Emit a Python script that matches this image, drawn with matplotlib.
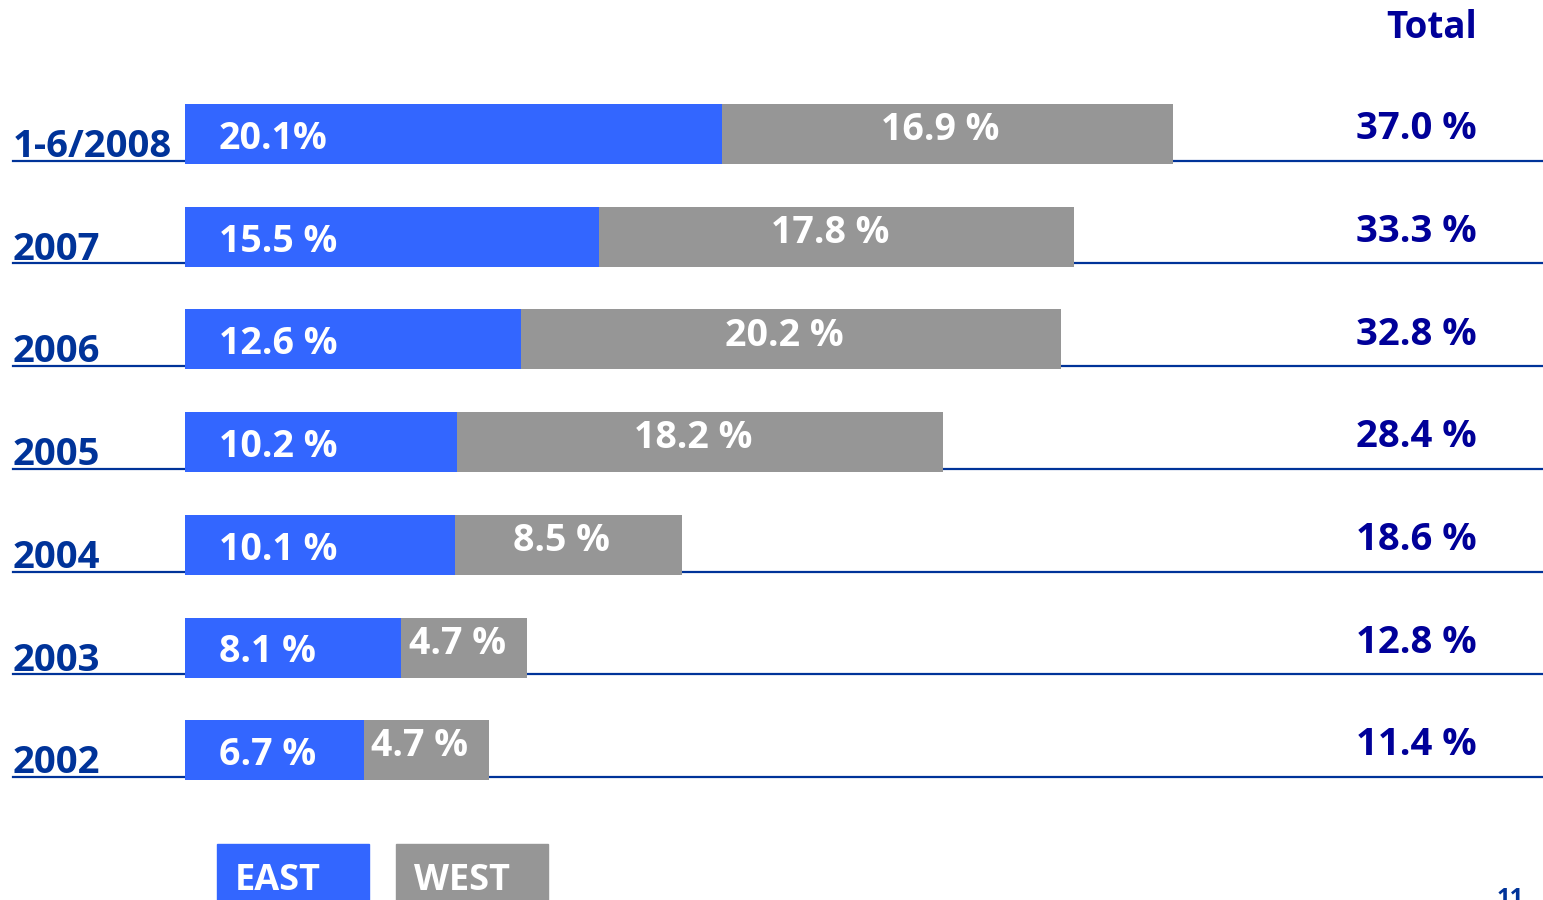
import matplotlib
matplotlib.use('Agg')
import matplotlib.pyplot as plt
from matplotlib.patches import Rectangle

plt.rcParams['font.family'] = ['Open Sans', 'DejaVu Sans']

periods = ['1-6/2008', '2007', '2006', '2005', '2004', '2003', '2002']
east = [20.1, 15.5, 12.6, 10.2, 10.1, 8.1, 6.7]
west = [16.9, 17.8, 20.2, 18.2, 8.5, 4.7, 4.7]
totals = [37.0, 33.3, 32.8, 28.4, 18.6, 12.8, 11.4]
east_labels = ['20.1%', '15.5 %', '12.6 %', '10.2 %', '10.1 %', '8.1 %', '6.7 %']
west_labels = ['16.9 %', '17.8 %', '20.2 %', '18.2 %', '8.5 %', '4.7 %', '4.7 %']

blue = '#3366ff'
grey = '#969696'
dark = '#003399'
navy = '#000099'

W, H = 1543, 900
x0 = 185        # px where the bars start
ppp = 26.7      # px per percent
y0 = 134        # px centre of first row
row = 102.7     # px between rows

fig = plt.figure(figsize=(W / 100, H / 100), dpi=100)
ax = fig.add_axes([0, 0, 1, 1])
ax.set_xlim(-x0 / ppp, (W - x0) / ppp)
ax.set_ylim((H - y0) / row, -y0 / row)
ax.axis('off')

pos = list(range(len(periods)))
ax.barh(pos, east, height=60 / row, color=blue, zorder=2)
ax.barh(pos, west, left=east, height=60 / row, color=grey, zorder=2)

xl = (13 - x0) / ppp
for i in pos:
    ax.plot([xl, (W - x0) / ppp], [i + 0.26, i + 0.26], color=dark, lw=1.6, zorder=1)
    ax.text(xl, i + 0.224, periods[i], ha='left', va='baseline', fontsize=27.5,
            fontweight='bold', color=dark)
    ax.text(34 / ppp, i + 0.145, east_labels[i], ha='left', va='baseline', fontsize=27,
            fontweight='bold', color='white', zorder=3)
    ax.text(east[i] + west[i] / 2 - 0.25, i + 0.06, west_labels[i], ha='center', va='baseline',
            fontsize=27, fontweight='bold', color='white', zorder=3)
    ax.text((1477 - x0) / ppp, i + 0.05, '%.1f %%' % totals[i], ha='right', va='baseline',
            fontsize=27.5, fontweight='bold', color=navy)

ax.text((1477 - x0) / ppp, (38 - y0) / row, 'Total', ha='right', va='baseline',
        fontsize=26.5, fontweight='bold', color=navy)

# legend boxes at the bottom
for lx, name, col in [(217, 'EAST', blue), (396, 'WEST', grey)]:
    fig.patches.append(Rectangle((lx / W, -0.01), 152 / W, (H - 844) / H + 0.01,
                                 transform=fig.transFigure, color=col, zorder=1))
    fig.text((lx + 18) / W, 1 - 890 / H, name, ha='left', va='baseline', fontsize=26,
             fontweight='bold', color='white', zorder=2)

fig.text(1497 / W, 1 - 887 / H, '11', ha='left', va='top', fontsize=17,
         fontweight='bold', color=dark)

fig.savefig('out.png', dpi=100)
